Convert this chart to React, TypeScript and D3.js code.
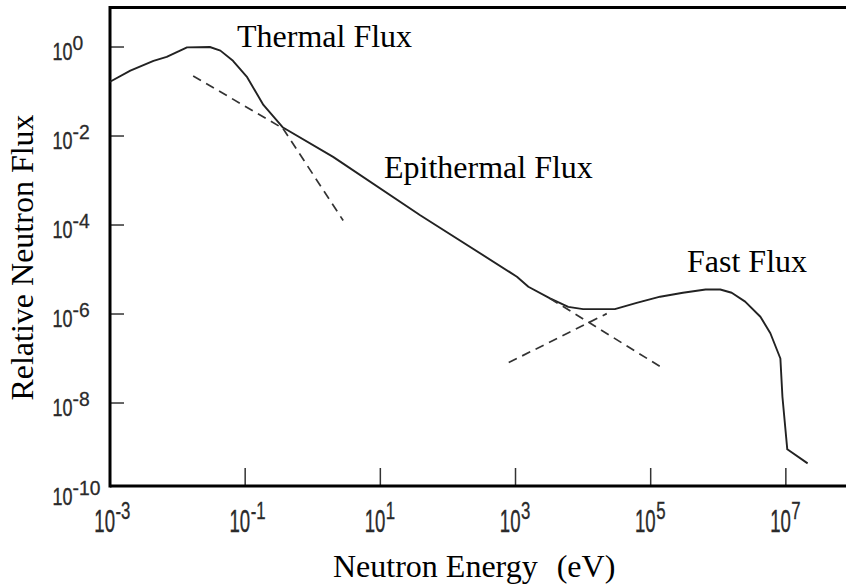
import React from "react";
import * as d3 from "d3";

// Neutron energy (eV) and relative flux
const fluxEnergy = [1.0e-3, 2.0e-3, 4.4e-3, 6.9e-3, 1.38e-2, 3.0e-2, 4.3e-2, 6.6e-2, 0.107, 0.186, 0.363, 2.0, 38.9, 1050, 1550, 3240, 6030, 1.0e4, 2.95e4, 6.2e4, 1.38e5, 3.0e5, 6.5e5, 1.07e6, 1.58e6, 2.5e6, 4.2e6, 5.9e6, 8.3e6, 8.9e6, 1.05e7, 2.1e7];
const fluxValue = [0.166, 0.295, 0.49, 0.6, 0.98, 1.0, 0.83, 0.49, 0.21, 0.05, 0.0155, 3.4e-3, 1.66e-4, 6.9e-6, 4.1e-6, 2.24e-6, 1.45e-6, 1.29e-6, 1.29e-6, 1.78e-6, 2.45e-6, 3.0e-6, 3.55e-6, 3.55e-6, 3.0e-6, 1.9e-6, 8.7e-7, 3.7e-7, 1.0e-7, 1.38e-8, 9.1e-10, 4.4e-10];

// Dashed extrapolations
const epiLowEnergy = [1.7e-2, 0.363];
const epiLowValue = [0.224, 0.0148];
const thermalTailEnergy = [0.363, 2.82];
const thermalTailValue = [0.0148, 1.26e-4];
const epiHighEnergy = [3240, 1.38e5];
const epiHighValue = [2.24e-6, 6.6e-8];
const fastLowEnergy = [794, 2.24e4];
const fastLowValue = [8.1e-8, 1.02e-6];

const xTickExp = [-3, -1, 1, 3, 5, 7];
const yTickExp = [0, -2, -4, -6, -8, -10];

const annotations = [
  { text: "Thermal Flux", x: 237, y: 47 },
  { text: "Epithermal Flux", x: 384, y: 178 },
  { text: "Fast Flux", x: 687, y: 272 },
];

const W = 846;
const H = 587;
const SERIF = "'Liberation Serif', 'Times New Roman', serif";
const SANS = "'Liberation Sans', Arial, sans-serif";

export default function App() {
  const x = d3.scaleLog().domain([1e-3, Math.pow(10, 7.89)]).range([110, 846]);
  const y = d3.scaleLog().domain([Math.pow(10, -9.865), Math.pow(10, 0.888)]).range([486, 7.5]);

  const line = d3
    .line<[number, number]>()
    .x((d) => x(d[0]))
    .y((d) => y(d[1]));

  const zip = (a: number[], b: number[]) => a.map((v, i) => [v, b[i]] as [number, number]);

  const dashed = [
    zip(epiLowEnergy, epiLowValue),
    zip(thermalTailEnergy, thermalTailValue),
    zip(epiHighEnergy, epiHighValue),
    zip(fastLowEnergy, fastLowValue),
  ];

  const left = x(1e-3);
  const bottom = y.range()[0];
  const top = y.range()[1];
  const labelColor = "#2a2a2a";

  return (
    <svg
      width={W}
      height={H}
      style={{ position: "absolute", left: 0, top: 0, background: "#fff" }}
    >
      <rect x={0} y={0} width={W} height={H} fill="#fff" />

      {/* y ticks (inward) */}
      {yTickExp
        .filter((e) => e > -10)
        .map((e) => (
          <line
            key={"yt" + e}
            x1={left}
            x2={left + 14}
            y1={y(Math.pow(10, e))}
            y2={y(Math.pow(10, e))}
            stroke="#333"
            strokeWidth={1.5}
          />
        ))}
      {/* x ticks (inward) */}
      {xTickExp
        .filter((e) => e > -3)
        .map((e) => (
          <line
            key={"xt" + e}
            x1={x(Math.pow(10, e))}
            x2={x(Math.pow(10, e))}
            y1={bottom}
            y2={bottom - 18}
            stroke="#333"
            strokeWidth={1.5}
          />
        ))}

      {/* frame */}
      <line x1={left} x2={W} y1={top} y2={top} stroke="#000" strokeWidth={3} />
      <line x1={left} x2={W} y1={bottom} y2={bottom} stroke="#000" strokeWidth={3} />
      <line x1={left} x2={left} y1={top - 1.5} y2={bottom + 1.5} stroke="#000" strokeWidth={3} />

      {/* curves */}
      <path
        d={line(zip(fluxEnergy, fluxValue)) || ""}
        fill="none"
        stroke="#222"
        strokeWidth={1.9}
        strokeLinejoin="round"
      />
      {dashed.map((seg, i) => (
        <path
          key={"d" + i}
          d={line(seg) || ""}
          fill="none"
          stroke="#333"
          strokeWidth={1.7}
          strokeDasharray="9,6"
        />
      ))}

      {/* y tick labels */}
      {yTickExp.map((e) => {
        const yy = y(Math.pow(10, e));
        return (
          <g key={"yl" + e} fontFamily={SANS}>
            <g transform={`translate(52.5, ${yy + 12.5}) scale(0.78,1)`}>
              <text style={{ fontSize: "23px" }} fill={labelColor} stroke={labelColor} strokeWidth={0.35}>
                10
              </text>
            </g>
            <g transform={`translate(72.5, ${yy + 3}) scale(0.92,1)`}>
              <text style={{ fontSize: "21px" }} fill={labelColor} stroke={labelColor} strokeWidth={0.3}>
                {String(e)}
              </text>
            </g>
          </g>
        );
      })}

      {/* x tick labels */}
      {xTickExp.map((e) => {
        const xx = x(Math.pow(10, e));
        return (
          <g key={"xl" + e} fontFamily={SANS}>
            <g transform={`translate(${xx + 5}, 532) scale(0.6,1)`}>
              <text style={{ fontSize: "31px" }} textAnchor="end" fill={labelColor} stroke={labelColor} strokeWidth={0.4}>
                10
              </text>
            </g>
            <g transform={`translate(${xx + 5.5}, 518.5) scale(0.7,1)`}>
              <text style={{ fontSize: "24px" }} fill={labelColor} stroke={labelColor} strokeWidth={0.35}>
                {String(e)}
              </text>
            </g>
          </g>
        );
      })}

      {/* annotations */}
      {annotations.map((a) => (
        <text key={a.text} x={a.x} y={a.y} fontFamily={SERIF} style={{ fontSize: "32px" }} fill="#000">
          {a.text}
        </text>
      ))}

      {/* axis titles */}
      <text x={333} y={576.7} fontFamily={SERIF} style={{ fontSize: "32px" }} fill="#000">
        Neutron Energy
      </text>
      <text x={556.7} y={576.7} fontFamily={SERIF} style={{ fontSize: "32px" }} fill="#000">
        (eV)
      </text>
      <text
        transform="translate(33, 257.5) rotate(-90)"
        textAnchor="middle"
        fontFamily={SERIF}
        style={{ fontSize: "32px" }}
        fill="#000"
      >
        Relative Neutron Flux
      </text>
    </svg>
  );
}
